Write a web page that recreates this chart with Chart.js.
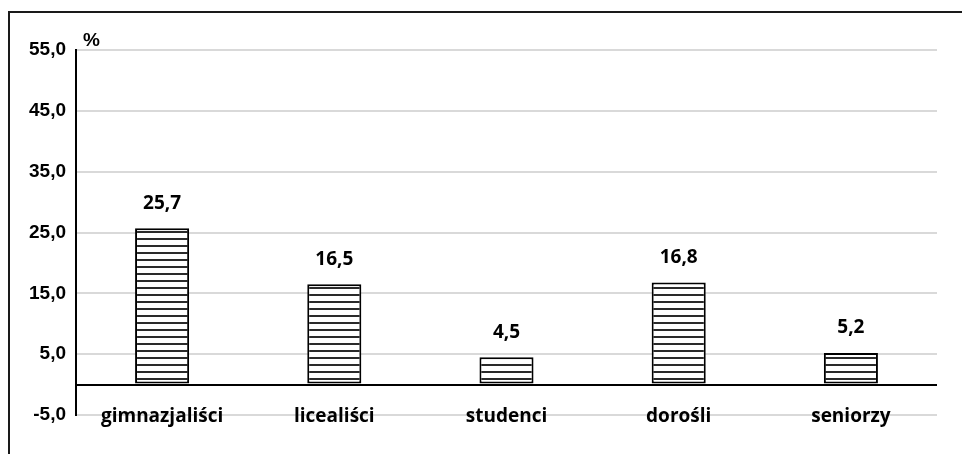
<!DOCTYPE html>
<html>
<head>
<meta charset="utf-8">
<script src="https://cdn.jsdelivr.net/npm/chart.js@4/dist/chart.umd.min.js"></script>
<style>
  html, body { margin: 0; padding: 0; background: #ffffff; }
  #wrap { position: relative; width: 962px; height: 454px; }
  #frame { position: absolute; left: 8px; top: 11px; width: 960px; height: 450px;
           border-top: 2px solid #1a1a1a; border-left: 2px solid #1a1a1a; box-sizing: border-box; }
  canvas { position: absolute; left: 0; top: 0; }
</style>
</head>
<body>
<div id="wrap">
  <div id="frame"></div>
  <canvas id="c" width="962" height="454"></canvas>
</div>
<script>
const categories = ['gimnazjaliści', 'licealiści', 'studenci', 'dorośli', 'seniorzy'];
const values = [25.7, 16.5, 4.5, 16.8, 5.2];
const yTicks = [-5, 5, 15, 25, 35, 45, 55];
const unitLabel = '%';

function fmt(v) { return v.toFixed(1).replace('.', ','); }

function makePattern() {
  const pc = document.createElement('canvas');
  pc.width = 8; pc.height = 7;
  const g = pc.getContext('2d');
  g.fillStyle = '#ffffff';
  g.fillRect(0, 0, 8, 7);
  g.fillStyle = '#2a2a2a';
  g.fillRect(0, 0, 8, 2);
  return g.createPattern(pc, 'repeat');
}

const labelPlugin = {
  id: 'valueLabels',
  afterDatasetsDraw(chart) {
    const ctx = chart.ctx;
    const meta = chart.getDatasetMeta(0);
    ctx.save();
    ctx.fillStyle = '#000';
    ctx.font = 'bold 19px "Open Sans"';
    ctx.textAlign = 'center';
    ctx.textBaseline = 'middle';
    meta.data.forEach((bar, i) => {
      ctx.fillText(fmt(values[i]), bar.x, bar.y - 25);
    });
    const ca = chart.chartArea;
    ctx.font = 'bold 19px "Liberation Sans"';
    ctx.textAlign = 'left';
    ctx.fillText(unitLabel, ca.left + 7, ca.top - 9);
    ctx.restore();
  }
};

new Chart(document.getElementById('c'), {
  type: 'bar',
  data: {
    labels: categories,
    datasets: [{
      data: values,
      backgroundColor: makePattern(),
      borderColor: '#000000',
      borderWidth: 2,
      borderSkipped: false,
      barPercentage: 0.314,
      categoryPercentage: 1.0
    }]
  },
  options: {
    responsive: false,
    animation: false,
    devicePixelRatio: 1,
    layout: { padding: { top: 50, right: 25, left: 0, bottom: 0 } },
    plugins: { legend: { display: false }, tooltip: { enabled: false } },
    scales: {
      x: {
        grid: { display: false, drawTicks: false },
        border: { display: false },
        ticks: { color: '#000', font: { family: 'Open Sans', weight: 'bold', size: 19 }, padding: -13, mirror: true, maxRotation: 0 },
        afterFit(s) { s.height = 39; }
      },
      y: {
        min: -5, max: 55,
        afterBuildTicks(s) { s.ticks = yTicks.concat([0]).map(v => ({ value: v })); },
        afterFit(s) { s.width = 76; },
        grid: {
          drawTicks: false,
          color: (c) => (c.tick && c.tick.value === 0) ? '#000000' : '#d9d9d9',
          lineWidth: (c) => 2
        },
        border: { display: true, color: '#000', width: 2 },
        ticks: {
          color: '#000',
          padding: 10,
          font: { family: 'Liberation Sans', weight: 'bold', size: 19 },
          callback: (v) => v === 0 ? '' : fmt(v)
        }
      }
    }
  },
  plugins: [labelPlugin]
});
</script>
</body>
</html>
